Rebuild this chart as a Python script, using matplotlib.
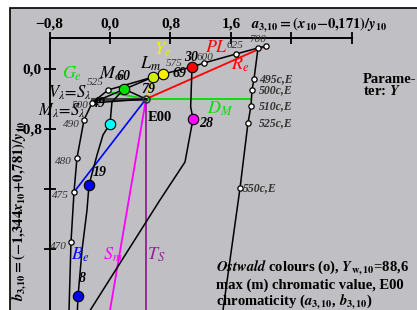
import matplotlib
matplotlib.use("Agg")
import matplotlib.pyplot as plt
from matplotlib.patches import Rectangle

plt.rcParams['font.family'] = ['Liberation Serif', 'DejaVu Serif']
plt.rcParams['mathtext.fontset'] = 'stix'

# spectral / optimal colour locus (left and top part)
locus_x = [-0.546, -0.516, -0.476, -0.437, -0.344, -0.238, -0.026, 0.569, 0.701, 1.085, 1.243, 1.667, 1.958, 2.063]
locus_y = [-3.35, -2.307, -1.640, -1.187, -0.680, -0.453, -0.280, -0.107, -0.067, 0.027, 0.080, 0.200, 0.280, 0.307]
# right branch (complementary wavelengths c,E)
comp_x = [1.958, 1.905, 1.878, 1.865, 1.825, 1.720, 1.476]
comp_y = [0.280, -0.133, -0.280, -0.493, -0.720, -1.587, -3.35]

# labelled wavelengths on the locus
wave_names = ['470', '475', '480', '490', '500', '525', '600', '625', '700']
wave_x = [-0.516, -0.476, -0.437, -0.344, -0.238, -0.026, 1.243, 1.667, 1.958]
wave_y = [-2.307, -1.640, -1.187, -0.680, -0.453, -0.280, 0.080, 0.200, 0.280]
comp_names = ['495c,E', '500c,E', '510c,E', '525c,E', '550c,E']
comp_mx = [1.905, 1.878, 1.865, 1.825, 1.720]
comp_my = [-0.133, -0.280, -0.493, -0.720, -1.587]

# E00 (achromatic point)
e00_x, e00_y = 0.476, -0.40

# Ostwald maximum colours
ost_x = [0.185, 0.569, 0.701, 1.085, 0.0, 1.098, -0.278, -0.423]
ost_y = [-0.267, -0.107, -0.067, 0.027, -0.733, -0.667, -1.547, -3.027]
ost_col = ['#00e000', '#d0f000', '#f4f000', '#ff0000', '#00ffff', '#ff00ff', '#0000ee', '#0000ee']

# black Ostwald curves
green_cyan_x = [0.185, 0.026, 0.0, -0.093, -0.172, -0.225, -0.278, -0.304, -0.370, -0.410, -0.423, -0.437]
green_cyan_y = [-0.267, -0.44, -0.733, -0.88, -1.147, -1.347, -1.547, -1.88, -2.413, -2.88, -3.027, -3.347]
red_mag_x = [1.085, 1.067, 1.098, 0.992, 0.661, -0.344]
red_mag_y = [0.027, -0.503, -0.667, -1.24, -1.747, -3.347]

# coloured lines from E00
green_line_x = [-0.026, 0.476, 1.865]
green_line_y = [-0.307, -0.40, -0.40]
red_end = (2.063, 0.307)
blue_end = (-0.476, -1.640)
mag_end = (-0.022, -3.347)
purple_end = (0.476, -3.35)
yellow_end = (0.569, -0.107)

xticks = [-0.8, 0.0, 0.8, 1.6, 2.4, 3.2]
xticklabels = ['\u22120,8', '0,0', '0,8', '1,6', '', '']
yticks = [0.0, -0.8, -1.6, -2.4]
yticklabels = ['0,0', '\u22120,8', '', '']

W, H = 417, 310
fig = plt.figure(figsize=(W / 100, H / 100), dpi=100)
fig.patches.append(Rectangle((10 / W, -0.1), 1.1, 1.1 - 8 / H, transform=fig.transFigure,
                             facecolor='#bfbfc4', edgecolor='black', lw=1.2, zorder=-5))

ax = fig.add_axes([0, 0, 1, 1])
ax.set_facecolor('none')
X0, SX, Y0, SY = 110, 75.6, 69, 75.0
ax.set_xlim(-X0 / SX, (W - X0) / SX)
ax.set_ylim((Y0 - H) / SY, Y0 / SY)


def P(px, py):
    return (px - X0) / SX, (Y0 - py) / SY


top = (Y0 - 38) / SY
for s in ['right', 'bottom']:
    ax.spines[s].set_visible(False)
ax.spines['top'].set_position(('data', top))
ax.spines['top'].set_bounds(-0.8, 3.2)
ax.spines['left'].set_position(('data', -0.8))
ax.spines['left'].set_bounds((Y0 - H) / SY, top)
for s in ['top', 'left']:
    ax.spines[s].set_linewidth(1.4)
ax.xaxis.set_ticks_position('top')
ax.set_xticks(xticks)
ax.set_xticklabels(xticklabels)
ax.set_yticks(yticks)
ax.set_yticklabels(yticklabels)
ax.tick_params(direction='inout', length=9, width=1.3, labelsize=11, pad=1)
for lab in ax.get_xticklabels() + ax.get_yticklabels():
    lab.set_fontweight('bold')

lw = 1.1
# coloured lines
ax.plot([e00_x, red_end[0]], [e00_y, red_end[1]], color='#ff0000', lw=1.3, zorder=2)
ax.plot([e00_x, blue_end[0]], [e00_y, blue_end[1]], color='#0000ff', lw=1.2, zorder=2)
ax.plot([e00_x, mag_end[0]], [e00_y, mag_end[1]], color='#ff00ff', lw=1.3, zorder=2)
ax.plot([e00_x, purple_end[0]], [e00_y, purple_end[1]], color='#9a1a9a', lw=1.3, zorder=2)
ax.plot([e00_x, yellow_end[0]], [e00_y, yellow_end[1]], color='#e8e800', lw=1.3, zorder=2)
ax.plot(green_line_x, green_line_y, color='#00e000', lw=1.3, zorder=2)
ax.plot([wave_x[4], e00_x], [e00_y, e00_y], color='#404040', lw=2.2, zorder=2)

# black curves
ax.plot(locus_x, locus_y, color='black', lw=lw, zorder=3)
ax.plot(comp_x, comp_y, color='black', lw=lw, zorder=3)
ax.plot([wave_x[4], yellow_end[0]], [wave_y[4], yellow_end[1]], color='black', lw=lw, zorder=3)
ax.plot([wave_x[4], e00_x], [wave_y[4], e00_y], color='black', lw=lw, zorder=3)
ax.plot([ost_x[0], e00_x], [ost_y[0], e00_y], color='black', lw=lw, zorder=3)
ax.plot(green_cyan_x, green_cyan_y, color='black', lw=lw, zorder=3)
ax.plot(red_mag_x, red_mag_y, color='black', lw=lw, zorder=3)

# markers
ax.plot(wave_x + [red_end[0]], wave_y + [red_end[1]], 'o', ms=3.8, mfc='white', mec='black', mew=0.9, zorder=5)
ax.plot(comp_mx, comp_my, 'o', ms=3.8, mfc='white', mec='black', mew=0.9, zorder=5)
for x, y, c in zip(ost_x, ost_y, ost_col):
    ax.plot(x, y, 'o', ms=7.5, mfc=c, mec='black', mew=0.8, zorder=6)
ax.plot(e00_x, e00_y, 'o', ms=5, mfc='none', mec='#303050', mew=1.2, zorder=6)


def T(px, py, s, **kw):
    x, y = P(px, py)
    kw.setdefault('ha', 'center')
    kw.setdefault('va', 'center')
    ax.text(x, y, s, **kw)


# wavelength labels
sm = dict(fontsize=8, style='italic', color='#333333')
T(258, 39, '700', **sm)
T(235, 45, '625', **sm)
T(205, 57, '600', **sm)
T(174, 63, '575', **sm)
T(95, 82, '525', **sm)
T(89, 105, '500', ha='right', **sm)
T(80, 124, '490', ha='right', **sm)
T(72, 161, '480', ha='right', **sm)
T(69, 195, '475', ha='right', **sm)
T(67, 246, '470', ha='right', **sm)
for n, py in zip(comp_names, [79, 90, 106, 123]):
    T(259, py, n, ha='left', fontsize=8.5, style='italic', fontweight='bold', color='#333333')
T(243, 188, comp_names[4], ha='left', fontsize=8.5, style='italic', fontweight='bold', color='#333333')

# number labels
bd = dict(fontsize=10, fontweight='bold', style='italic')
T(191, 57, '30', **bd)
T(180, 73, '69', **bd)
T(148, 89, '79', **bd)
T(98, 103, '49', **bd)
T(124, 76, '60', **bd)
T(206, 123, '28', **bd)
T(100, 172, '19', **bd)
T(82, 279, '8', **bd)
T(160, 117, 'E00', fontsize=10.5, fontweight='bold')

# letter labels
T(111, 74, r'$M_o$', fontsize=13)
T(151, 64, r'$L_m$', fontsize=13)
T(72, 74, r'$G_e$', fontsize=13, color='#00e000')
T(163, 50, r'$Y_e$', fontsize=13, color='#f0f000')
T(217, 48, r'$PL$', fontsize=13, color='#ff0000')
T(240, 65, r'$R_e$', fontsize=13, color='#ff0000')
T(220, 109, r'$D_M$', fontsize=13, color='#00e000')
T(80, 255, r'$B_e$', fontsize=13, color='#0000ff')
T(113, 255, r'$S_m$', fontsize=13, color='#ff00ff')
T(156, 255, r'$T_S$', fontsize=13, color='#9a1a9a')
T(70, 93, r'$V_\lambda\!=\!S_\lambda$', fontsize=12)
T(62, 111, r'$M_\lambda\!=\!S_\lambda$', fontsize=12)

# axis titles
T(319, 25, r'$\mathbfit{a}_{\mathbf{3{,}10}}\mathbf{=(}\mathbfit{x}_{\mathbf{10}}\mathbf{-0{,}171)/}\mathbfit{y}_{\mathbf{10}}$',
  fontsize=10.5)
T(20, 211, r'$\mathbfit{b}_{\mathbf{3{,}10}}\mathbf{=(-1{,}344}\mathbfit{x}_{\mathbf{10}}\mathbf{+0{,}781)/}\mathbfit{y}_{\mathbf{10}}$',
  fontsize=10.5, rotation=90)

T(363, 79, 'Parame-', ha='left', fontsize=10.5, fontweight='bold')
T(363, 91, r'ter: $\mathbfit{Y}$', ha='left', fontsize=10.5, fontweight='bold')

T(216, 268, r'$\mathbfit{Ostwald}$ colours (o), $\mathbfit{Y}_{\mathbf{w,10}}$=88,6', ha='left', fontsize=10.5, fontweight='bold')
T(216, 285, 'max (m) chromatic value, E00', ha='left', fontsize=10.5, fontweight='bold')
T(216, 302, r'chromaticity ($\mathbfit{a}_{\mathbf{3,10}}$, $\mathbfit{b}_{\mathbf{3,10}}$)', ha='left', fontsize=10.5, fontweight='bold')

fig.savefig('out.png', dpi=100)
